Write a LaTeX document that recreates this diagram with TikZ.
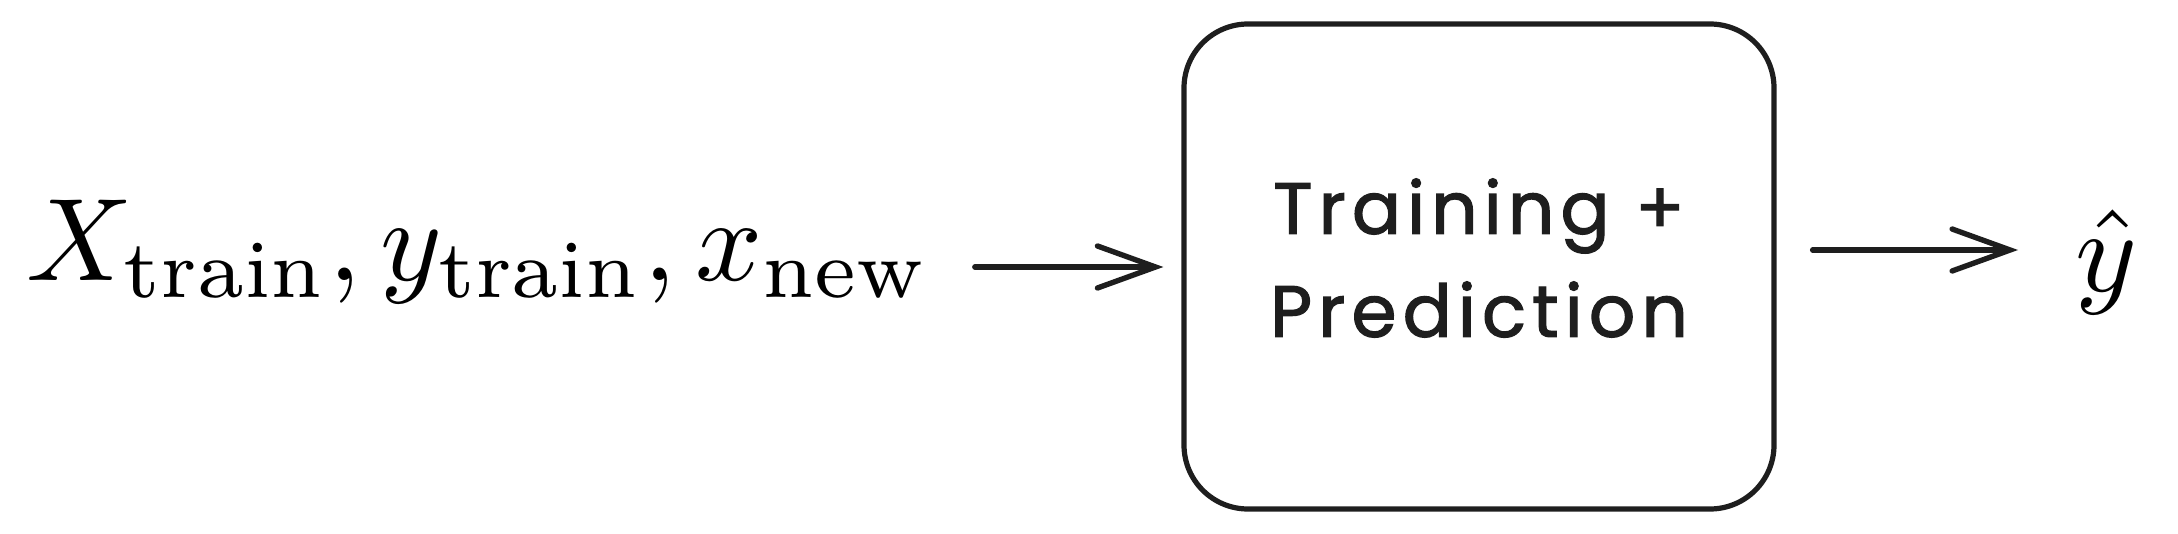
\documentclass[tikz,border=0pt]{standalone}
\usepackage{graphicx}
\usepackage{fontspec}
\newfontfamily\handfont{Poppins}[FakeBold=1.7,LetterSpace=8.5]
\usetikzlibrary{arrows.meta}
\definecolor{ink}{HTML}{1E1E1E}
\newcommand{\bigmath}[1]{\scalebox{5.88}{\fontsize{10}{12}\selectfont$#1$}}
\tikzset{
  arr/.style={draw=ink, line width=2.7pt, line cap=round,
    -{Straight Barb[length=29pt,width=21pt,line cap=round]}},
  mathtxt/.style={inner sep=0pt, text=black},
  handtxt/.style={inner sep=0pt, text=ink, align=center,
    font=\handfont\fontsize{36.3}{51.5}\selectfont},
  procbox/.style={draw=ink, line width=2.6pt, rounded corners=32pt,
    minimum width=295pt, minimum height=242.5pt, inner sep=0pt}
}
\begin{document}
\begin{tikzpicture}[x=0.5pt,y=-0.5pt]
\useasboundingbox (0,0) rectangle (2178,534);
\node[mathtxt, anchor=base west] (inp) at (26,280)
  {\bigmath{X_{\mathrm{train}},y_{\mathrm{train}},x_{\mathrm{new}}}};
\node[procbox] (box) at (1479,266.5) {};
\node[handtxt] (lbl) at (1479,258) {Training +\\Prediction};
\node[mathtxt, anchor=base west] (out) at (2075,292) {\bigmath{\hat{y}}};
\coordinate (a1y) at (0,267);
\coordinate (a2y) at (0,250);
\draw[arr, shorten <=22.5pt, shorten >=9pt] (inp.east |- a1y) -- (box.west |- a1y);
\draw[arr, shorten <=18pt, shorten >=28.5pt] (box.east |- a2y) -- (out.west |- a2y);
\end{tikzpicture}
\end{document}
